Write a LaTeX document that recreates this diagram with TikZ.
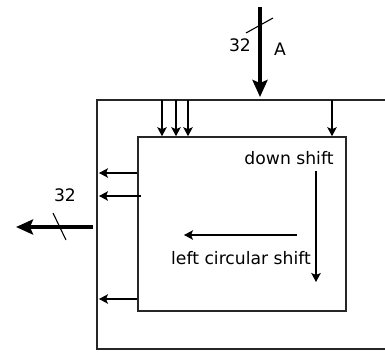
\documentclass[tikz,border=0pt]{standalone}
\usepackage{fontspec}
\setmainfont{DejaVu Sans}
\usetikzlibrary{arrows.meta}
\tikzset{every node/.style={font=\fontsize{17.2}{20}\selectfont}}

\begin{document}
\begin{tikzpicture}[x=1pt,y=-1pt,
    txt/.style={inner sep=0pt,outer sep=0pt},
    frame/.style={draw=black!85,line width=1.6pt},
    box/.style={draw=black!85,line width=1.6pt,fill=white,inner sep=0pt},
    sig/.style={draw=black,line width=1.2pt,-{Stealth[length=9pt,width=9.5pt,inset=2pt]}},
    bus/.style={draw=black,line width=4pt,-{Stealth[length=17pt,width=15pt,inset=3pt]}},
    tick/.style={draw=black,line width=1.1pt}]
  \path[use as bounding box] (0,0) rectangle (385,351);

  % Frames
  \draw[frame] (385,100) -- (97,100) -- (97,349) -- (385,349);
  \node[box,minimum width=208pt,minimum height=174pt] (inner) at (242,224) {};

  % Input bus
  \coordinate (ain) at (260,7);
  \coordinate (aend) at (260,97);
  \draw[bus] (ain) -- (aend);
  \draw[tick] (246,33) -- (273,18);
  \node[txt] (win) at (240,45) {32};
  \node[txt] (lA) at (280,49) {A};

  % Taps into the shifter
  \coordinate (t1) at (162,100);
  \coordinate (t2) at (176,100);
  \coordinate (t3) at (188,100);
  \coordinate (t4) at (332,100);
  \foreach \t in {t1,t2,t3,t4}
    \draw[sig] (\t) -- (\t |- inner.north);

  % Outputs of the shifter
  \coordinate (l1) at (99,173);
  \coordinate (l2) at (99,196);
  \coordinate (l3) at (99,299);
  \draw[sig] (l1 -| inner.west) -- (l1);
  \draw[sig] ([xshift=4pt]l2 -| inner.west) -- (l2);
  \draw[sig] (l3 -| inner.west) -- (l3);

  % Output bus
  \coordinate (bout) at (93,227);
  \coordinate (bend) at (16,227);
  \draw[bus] (bout) -- (bend);
  \draw[tick] (53,213) -- (66,240);
  \node[txt] (wout) at (65,195) {32};

  % Shift directions
  \node[txt] (down) at (289,158) {down shift};
  \node[txt] (left) at (241,258) {left circular shift};
  \coordinate (ds1) at (316,171);
  \coordinate (ds2) at (316,282);
  \draw[sig] (ds1) -- (ds2);
  \coordinate (ls1) at (297,235);
  \coordinate (ls2) at (184,235);
  \draw[sig] (ls1) -- (ls2);
\end{tikzpicture}
\end{document}
